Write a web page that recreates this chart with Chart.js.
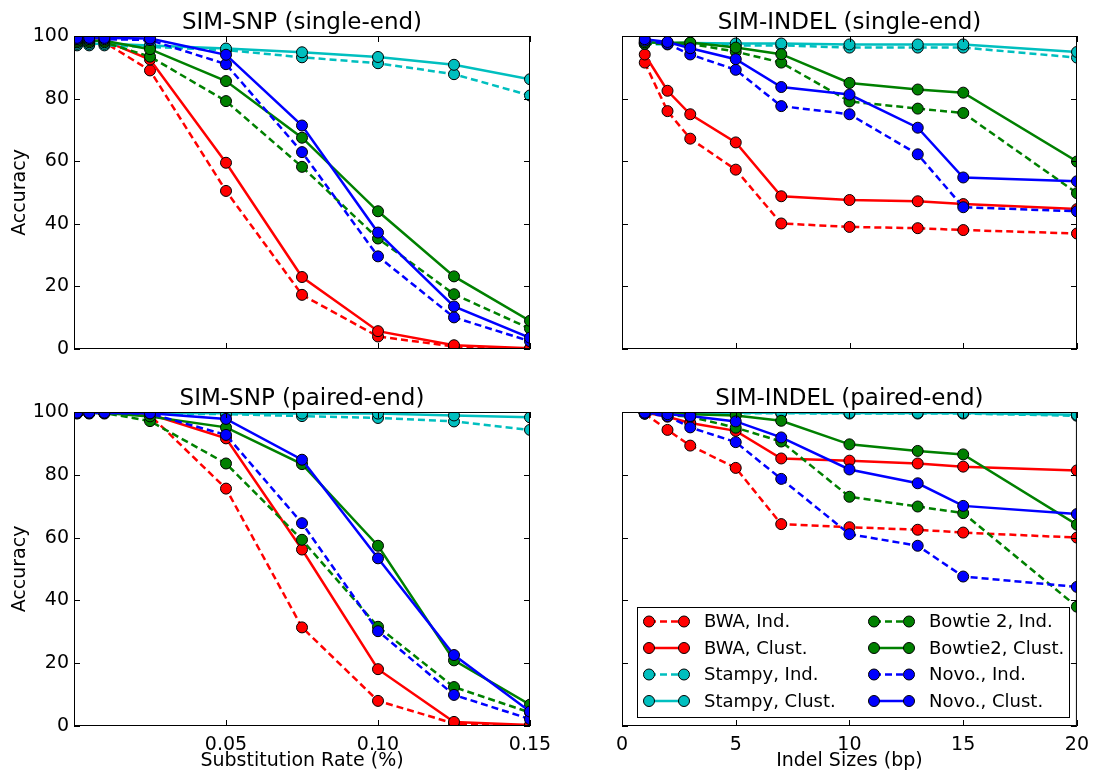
<!DOCTYPE html>
<html lang="en">
  <head>
    <meta charset="UTF-8" />
    <title>Mapping accuracy on simulated reads</title>
    <style>
      body {
        margin: 0;
        background: #fff;
      }
      .panel {
        position: absolute;
        left: 0;
        top: 0;
      }
    </style>
  </head>
  <body>
    <canvas class="panel" id="snpSingle" width="1093" height="772"></canvas>
    <canvas class="panel" id="indelSingle" width="1093" height="772"></canvas>
    <canvas class="panel" id="snpPaired" width="1093" height="772"></canvas>
    <canvas class="panel" id="indelPaired" width="1093" height="772"></canvas>
    <script src="https://cdnjs.cloudflare.com/ajax/libs/Chart.js/4.4.1/chart.umd.min.js"></script>
    <script>
      // x values and tick labels
      const snpRates = [0.001, 0.005, 0.01, 0.025, 0.05, 0.075, 0.1, 0.125, 0.15];
      const indelSizes = [1, 2, 3, 5, 7, 10, 13, 15, 20];
      const snpRateTicks = [0, 0.05, 0.1, 0.15];
      const indelSizeTicks = [0, 5, 10, 15, 20];
      const accuracyTicks = [0, 20, 40, 60, 80, 100];

      const seriesLabels = [
        "BWA, Ind.", "BWA, Clust.", "Stampy, Ind.", "Stampy, Clust.",
        "Bowtie 2, Ind.", "Bowtie2, Clust.", "Novo., Ind.", "Novo., Clust.",
      ];

      // SIM-SNP, single-end
      const snpSeBwaInd = [98, 98, 98, 89, 50.5, 17.3, 4.0, 0.8, 0];
      const snpSeBwaClust = [98.5, 98.5, 98.5, 92.5, 59.5, 23, 5.7, 1.2, 0.2];
      const snpSeStampyInd = [97, 97, 97, 96.5, 95.5, 93.2, 91.3, 87.8, 81];
      const snpSeStampyClust = [97.5, 97.5, 97.5, 97, 96, 94.8, 93.3, 90.8, 86.2];
      const snpSeBowtieInd = [98, 98, 98, 93.4, 79.2, 58.2, 35.3, 17.5, 6.5];
      const snpSeBowtieClust = [98.5, 98.5, 98.5, 95.8, 85.6, 67.5, 44, 23.2, 9];
      const snpSeNovoInd = [99, 99, 99, 98.7, 91, 62.9, 29.6, 10.1, 2.5];
      const snpSeNovoClust = [99.4, 99.4, 99.4, 99.2, 94, 71.4, 37.2, 13.6, 3.6];

      // SIM-INDEL, single-end
      const indelSeBwaInd = [91.5, 76, 67.2, 57.3, 40.1, 39, 38.6, 38, 36.9];
      const indelSeBwaClust = [94.1, 82.5, 75, 66, 48.8, 47.6, 47.2, 46.3, 44.7];
      const indelSeStampyInd = [97.5, 97.3, 97.3, 97, 97, 96.3, 96.3, 96.3, 93.1];
      const indelSeStampyClust = [98, 97.8, 97.8, 97.6, 97.6, 97.3, 97.3, 97.3, 94.9];
      const indelSeBowtieInd = [97.5, 97.5, 97.5, 95, 91.5, 79.1, 76.8, 75.4, 49.8];
      const indelSeBowtieClust = [98, 97.8, 97.9, 96.3, 94.2, 85, 82.9, 81.9, 59.9];
      const indelSeNovoInd = [98.5, 97.5, 94.1, 89.2, 77.6, 75, 62.2, 45.3, 44];
      const indelSeNovoClust = [99, 98.1, 96.1, 92.6, 83.7, 81.3, 70.7, 54.8, 53.6];

      // SIM-SNP, paired-end
      const snpPeBwaInd = [99.7, 99.7, 99.7, 99, 75.6, 31.4, 8, 0.8, 0];
      const snpPeBwaClust = [99.7, 99.7, 99.7, 99.3, 91.6, 56.2, 18.1, 1.3, 0.3];
      const snpPeStampyInd = [99.5, 99.5, 99.5, 99.5, 99.3, 98.7, 98.1, 97, 94.3];
      const snpPeStampyClust = [99.7, 99.7, 99.7, 99.7, 99.6, 99.5, 99.5, 98.9, 98.3];
      const snpPeBowtieInd = [99.7, 99.7, 99.7, 97.1, 83.6, 59.3, 31.6, 12.4, 4.3];
      const snpPeBowtieClust = [99.7, 99.7, 99.7, 98.6, 95.1, 83.4, 57.4, 20.9, 6.8];
      const snpPeNovoInd = [99.7, 99.7, 99.7, 99.5, 92.7, 64.6, 30.2, 9.9, 2.2];
      const snpPeNovoClust = [99.8, 99.8, 99.8, 99.6, 97.8, 84.8, 53.4, 22.6, 4.6];

      // SIM-INDEL, paired-end
      const indelPeBwaInd = [99.5, 94.3, 89.3, 82.2, 64.3, 63.3, 62.5, 61.6, 60];
      const indelPeBwaClust = [99.8, 98.5, 96.5, 94, 85.2, 84.5, 83.6, 82.6, 81.4];
      const indelPeStampyInd = [99.6, 99.6, 99.6, 99.6, 99.6, 99.5, 99.5, 99.5, 98.8];
      const indelPeStampyClust = [99.8, 99.8, 99.8, 99.8, 99.8, 99.7, 99.7, 99.7, 99.1];
      const indelPeBowtieInd = [99.5, 99, 98.5, 95, 90.6, 73, 69.9, 67.8, 38];
      const indelPeBowtieClust = [99.7, 99.5, 99.3, 98.9, 97.2, 89.7, 87.6, 86.5, 64.1];
      const indelPeNovoInd = [99.5, 98.7, 95.1, 90.4, 78.7, 61.1, 57.4, 47.6, 44.3];
      const indelPeNovoClust = [99.8, 99.3, 98.7, 97, 91.9, 81.7, 77.3, 70.1, 67.5];

      // line styles, same order as seriesLabels
      const seriesColors = [
        "#ff0000", "#ff0000", "#00bfbf", "#00bfbf",
        "#008000", "#008000", "#0000ff", "#0000ff",
      ];
      const seriesDashed = [true, false, true, false, true, false, true, false];

      const FONT = "'DejaVu Sans', 'Bitstream Vera Sans', sans-serif";
      Chart.defaults.font.family = FONT;
      Chart.defaults.font.size = 19;
      Chart.defaults.color = "#000";

      // box round the plot area, inward ticks on all sides, title on top
      const panelFrame = {
        id: "panelFrame",
        afterDatasetsDraw(chart, args, opts) {
          const { ctx, chartArea: a } = chart;
          const xs = chart.scales.x;
          const ys = chart.scales.y;
          const len = 6;
          ctx.save();
          ctx.strokeStyle = "#000";
          ctx.lineWidth = 1;
          ctx.beginPath();
          xs.ticks.forEach((t) => {
            const px = Math.round(xs.getPixelForValue(t.value)) + 0.5;
            ctx.moveTo(px, a.bottom);
            ctx.lineTo(px, a.bottom - len);
            ctx.moveTo(px, a.top);
            ctx.lineTo(px, a.top + len);
          });
          ys.ticks.forEach((t) => {
            const py = Math.round(ys.getPixelForValue(t.value)) + 0.5;
            ctx.moveTo(a.left, py);
            ctx.lineTo(a.left + len, py);
            ctx.moveTo(a.right, py);
            ctx.lineTo(a.right - len, py);
          });
          ctx.stroke();
          ctx.strokeRect(a.left + 0.5, a.top + 0.5, a.width - 1, a.height - 1);
          ctx.fillStyle = "#000";
          ctx.font = "23px " + FONT;
          ctx.textAlign = "center";
          ctx.textBaseline = "alphabetic";
          ctx.fillText(opts.title, (a.left + a.right) / 2, a.top - 7);
          ctx.restore();
        },
      };

      // two-column legend inside the plot area, filled column by column
      const panelLegend = {
        id: "panelLegend",
        afterDraw(chart, args, opts) {
          if (!opts.show) return;
          const ctx = chart.ctx;
          const box = { left: 637, top: 607, right: 1069, bottom: 717 };
          const rowGap = 26.5;
          const colX = [649, 874];
          ctx.save();
          ctx.fillStyle = "#fff";
          ctx.fillRect(box.left, box.top, box.right - box.left, box.bottom - box.top);
          ctx.strokeStyle = "#000";
          ctx.lineWidth = 1;
          ctx.strokeRect(box.left + 0.5, box.top + 0.5, box.right - box.left, box.bottom - box.top);
          const perCol = Math.ceil(chart.data.datasets.length / 2);
          chart.data.datasets.forEach((ds, i) => {
            const x0 = colX[Math.floor(i / perCol)];
            const x1 = x0 + 35;
            const y = box.top + 14.5 + (i % perCol) * rowGap;
            ctx.strokeStyle = ds.borderColor;
            ctx.lineWidth = ds.borderWidth;
            ctx.setLineDash(ds.borderDash);
            ctx.beginPath();
            ctx.moveTo(x0, y);
            ctx.lineTo(x1, y);
            ctx.stroke();
            ctx.setLineDash([]);
            [x0, x1].forEach((cx) => {
              ctx.beginPath();
              ctx.arc(cx, y, ds.pointRadius, 0, Math.PI * 2);
              ctx.fillStyle = ds.pointBackgroundColor;
              ctx.fill();
              ctx.lineWidth = ds.pointBorderWidth;
              ctx.strokeStyle = ds.pointBorderColor;
              ctx.stroke();
            });
            ctx.fillStyle = "#000";
            ctx.font = "18px " + FONT;
            ctx.textAlign = "left";
            ctx.textBaseline = "middle";
            ctx.fillText(ds.label, x1 + 20, y + 1);
          });
          ctx.restore();
        },
      };

      function buildPanel(id, cfg) {
        const area = cfg.area;
        const yWidth = cfg.yLabels ? 74 : 20;
        const xHeight = cfg.xLabels ? 46 : 10;
        const datasets = seriesLabels.map((label, i) => ({
          label: label,
          data: cfg.x.map((v, j) => ({ x: v, y: cfg.series[i][j] })),
          borderColor: seriesColors[i],
          backgroundColor: seriesColors[i],
          pointBackgroundColor: seriesColors[i],
          pointBorderColor: "#000",
          pointBorderWidth: 1,
          pointRadius: 5.5,
          borderWidth: 2.5,
          borderDash: seriesDashed[i] ? [7, 4] : [],
          tension: 0,
          fill: false,
          order: seriesLabels.length - i,
        }));
        return new Chart(document.getElementById(id), {
          type: "line",
          data: { datasets: datasets },
          options: {
            responsive: false,
            animation: false,
            devicePixelRatio: 1,
            layout: {
              padding: {
                left: area.l - yWidth,
                top: area.t,
                right: 1093 - area.r,
                bottom: 772 - area.b - xHeight,
              },
            },
            plugins: {
              legend: { display: false },
              tooltip: { enabled: false },
              panelFrame: { title: cfg.title },
              panelLegend: { show: !!cfg.legend },
            },
            scales: {
              x: {
                type: "linear",
                min: cfg.xTicks[0],
                max: cfg.xTicks[cfg.xTicks.length - 1],
                afterBuildTicks: (s) => {
                  s.ticks = cfg.xTicks.map((v) => ({ value: v }));
                },
                afterFit: (s) => {
                  s.height = xHeight;
                },
                grid: { display: false, drawTicks: false },
                border: { display: false },
                ticks: {
                  display: cfg.xLabels,
                  padding: 4,
                  font: { lineHeight: 1.55 },
                  autoSkip: false,
                  maxRotation: 0,
                  callback: cfg.xFormat,
                },
                title: {
                  display: cfg.xLabels,
                  text: cfg.xTitle,
                  font: { lineHeight: 1.1 },
                  padding: { top: 0, bottom: 0 },
                },
              },
              y: {
                type: "linear",
                min: 0,
                max: 100,
                afterBuildTicks: (s) => {
                  s.ticks = accuracyTicks.map((v) => ({ value: v }));
                },
                afterFit: (s) => {
                  s.width = yWidth;
                },
                grid: { display: false, drawTicks: false },
                border: { display: false },
                ticks: { display: cfg.yLabels, padding: 5, autoSkip: false },
                title: {
                  display: cfg.yLabels,
                  text: "Accuracy",
                  padding: { top: 9, bottom: 0 },
                },
              },
            },
          },
          plugins: [panelFrame, panelLegend],
        });
      }

      const snpFormat = (v) => (v === 0 ? "" : v.toFixed(2));
      const indelFormat = (v) => String(v);

      buildPanel("snpSingle", {
        title: "SIM-SNP (single-end)",
        area: { l: 74, t: 36, r: 530, b: 349 },
        x: snpRates,
        xTicks: snpRateTicks,
        xFormat: snpFormat,
        xLabels: false,
        yLabels: true,
        series: [snpSeBwaInd, snpSeBwaClust, snpSeStampyInd, snpSeStampyClust,
                 snpSeBowtieInd, snpSeBowtieClust, snpSeNovoInd, snpSeNovoClust],
      });

      buildPanel("indelSingle", {
        title: "SIM-INDEL (single-end)",
        area: { l: 622, t: 36, r: 1077, b: 349 },
        x: indelSizes,
        xTicks: indelSizeTicks,
        xFormat: indelFormat,
        xLabels: false,
        yLabels: false,
        series: [indelSeBwaInd, indelSeBwaClust, indelSeStampyInd, indelSeStampyClust,
                 indelSeBowtieInd, indelSeBowtieClust, indelSeNovoInd, indelSeNovoClust],
      });

      buildPanel("snpPaired", {
        title: "SIM-SNP (paired-end)",
        area: { l: 74, t: 412, r: 530, b: 726 },
        x: snpRates,
        xTicks: snpRateTicks,
        xFormat: snpFormat,
        xLabels: true,
        xTitle: "Substitution Rate (%)",
        yLabels: true,
        series: [snpPeBwaInd, snpPeBwaClust, snpPeStampyInd, snpPeStampyClust,
                 snpPeBowtieInd, snpPeBowtieClust, snpPeNovoInd, snpPeNovoClust],
      });

      buildPanel("indelPaired", {
        title: "SIM-INDEL (paired-end)",
        area: { l: 622, t: 412, r: 1077, b: 726 },
        x: indelSizes,
        xTicks: indelSizeTicks,
        xFormat: indelFormat,
        xLabels: true,
        xTitle: "Indel Sizes (bp)",
        yLabels: false,
        legend: true,
        series: [indelPeBwaInd, indelPeBwaClust, indelPeStampyInd, indelPeStampyClust,
                 indelPeBowtieInd, indelPeBowtieClust, indelPeNovoInd, indelPeNovoClust],
      });
    </script>
  </body>
</html>
